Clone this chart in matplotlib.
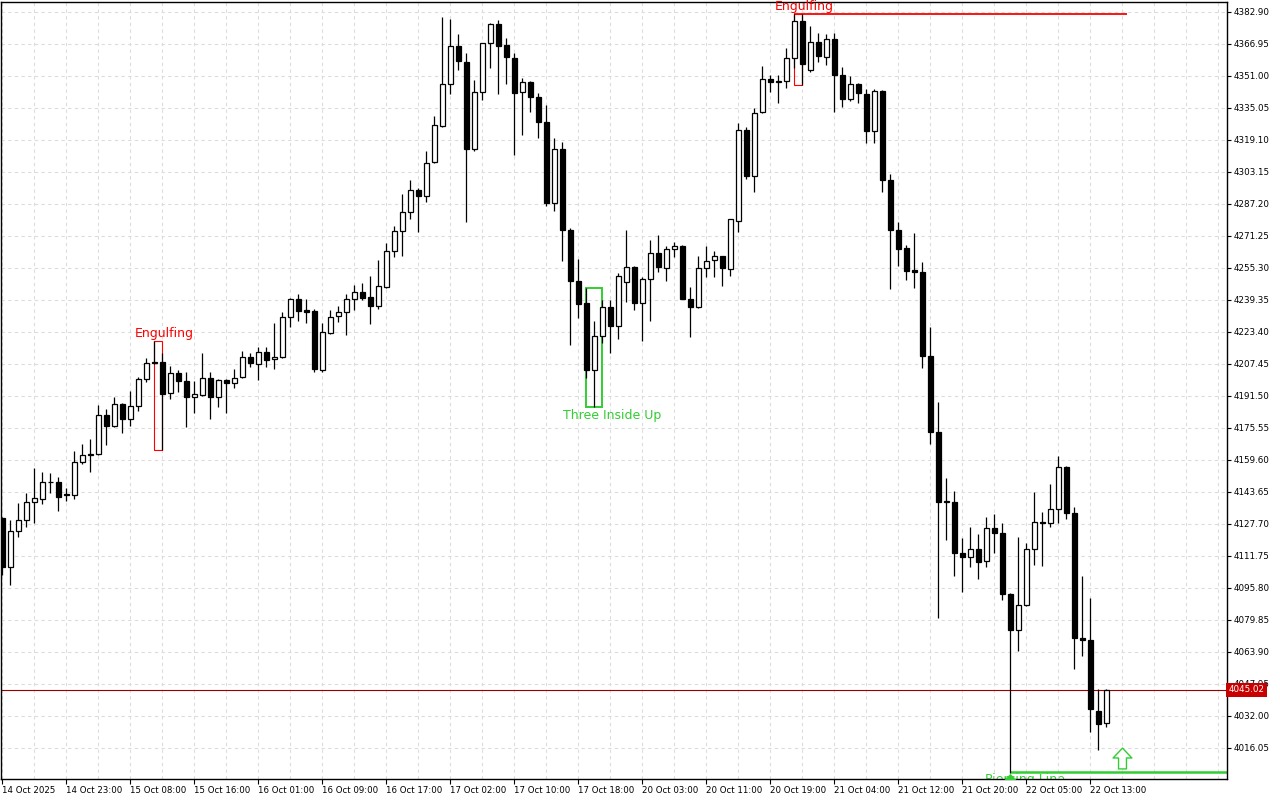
import matplotlib
matplotlib.use("Agg")
import matplotlib.pyplot as plt
from matplotlib.patches import Rectangle
from matplotlib.path import Path
from matplotlib.ticker import FixedLocator, MultipleLocator

# hourly OHLC (oldest -> newest)
opens = [
    4130.7, 4106.4, 4124.0, 4129.5, 4138.5, 4140.0, 4148.4, 4148.5, 4142.8, 4142.0,
    4158.4, 4162.1, 4162.4, 4181.9, 4176.5, 4187.3, 4179.9, 4186.3, 4199.8, 4208.4,
    4208.3, 4192.8, 4202.8, 4198.8, 4190.8, 4191.8, 4200.3, 4190.8, 4199.3, 4197.8,
    4200.8, 4210.8, 4207.3, 4213.3, 4209.8, 4210.8, 4230.7, 4239.7, 4234.2, 4233.7,
    4204.6, 4222.7, 4231.2, 4233.2, 4239.7, 4243.3, 4240.8, 4236.2, 4245.7, 4263.6,
    4273.6, 4283.1, 4294.0, 4291.0, 4308.0, 4325.9, 4346.9, 4365.8, 4357.8, 4314.5,
    4342.9, 4367.3, 4376.8, 4366.3, 4359.8, 4342.9, 4347.9, 4340.4, 4327.9, 4287.5,
    4314.5, 4274.0, 4249.0, 4237.7, 4204.4, 4221.4, 4236.0, 4226.5, 4248.2, 4255.6,
    4237.7, 4249.7, 4262.6, 4255.1, 4264.6, 4266.1, 4240.0, 4236.0, 4255.1, 4259.1,
    4261.1, 4254.6, 4278.6, 4323.9, 4301.0, 4332.9, 4349.3, 4348.2, 4348.4, 4359.8,
    4378.3, 4353.8, 4367.8, 4360.3, 4369.3, 4351.3, 4339.4, 4346.9, 4341.9, 4323.4,
    4343.7, 4298.9, 4274.0, 4265.3, 4254.4, 4253.4, 4211.6, 4173.7, 4138.8, 4138.8,
    4113.4, 4111.4, 4115.1, 4109.4, 4125.5, 4123.3, 4092.9, 4075.0, 4087.1, 4115.1,
    4128.8, 4128.0, 4135.0, 4155.9, 4133.0, 4070.7, 4069.7, 4034.3, 4028.4,
]
highs = [
    4131.2, 4129.7, 4138.3, 4143.3, 4155.6, 4153.6, 4152.9, 4151.0, 4145.5, 4164.1,
    4167.6, 4170.0, 4186.8, 4185.0, 4191.0, 4188.1, 4194.0, 4201.0, 4210.3, 4218.9,
    4212.8, 4206.4, 4204.3, 4203.3, 4198.8, 4213.1, 4203.3, 4200.1, 4199.8, 4204.8,
    4213.9, 4212.8, 4215.8, 4215.8, 4227.7, 4233.2, 4240.5, 4242.2, 4239.7, 4235.0,
    4227.7, 4234.2, 4236.3, 4242.2, 4246.8, 4247.7, 4251.2, 4259.3, 4267.7, 4276.1,
    4292.2, 4299.0, 4295.0, 4313.5, 4330.9, 4380.6, 4379.3, 4371.8, 4362.3, 4348.9,
    4367.5, 4377.3, 4378.8, 4369.8, 4362.3, 4349.9, 4348.4, 4342.4, 4336.4, 4319.9,
    4317.9, 4275.1, 4259.6, 4245.5, 4228.7, 4239.3, 4239.3, 4252.6, 4274.2, 4256.1,
    4250.6, 4269.1, 4271.7, 4266.1, 4268.1, 4266.6, 4245.7, 4261.1, 4266.1, 4263.6,
    4261.3, 4279.8, 4327.4, 4325.4, 4334.9, 4355.8, 4351.3, 4351.3, 4364.8, 4381.8,
    4381.8, 4375.8, 4372.3, 4371.8, 4372.3, 4355.3, 4350.8, 4347.4, 4344.4, 4344.4,
    4344.0, 4302.0, 4278.1, 4266.6, 4272.7, 4258.1, 4225.9, 4188.3, 4150.5, 4144.0,
    4120.7, 4126.2, 4122.7, 4131.0, 4132.5, 4128.0, 4093.2, 4121.0, 4118.0, 4143.5,
    4133.5, 4147.5, 4161.4, 4156.4, 4136.0, 4101.6, 4090.6, 4045.3, 4045.5,
]
lows = [
    4102.2, 4097.3, 4121.3, 4126.3, 4128.0, 4137.5, 4143.3, 4134.3, 4139.3, 4140.1,
    4157.4, 4153.7, 4162.0, 4167.2, 4176.0, 4173.2, 4176.7, 4184.0, 4198.6, 4207.4,
    4164.4, 4190.1, 4193.6, 4176.2, 4183.1, 4191.6, 4179.9, 4186.1, 4182.9, 4195.3,
    4200.6, 4206.1, 4199.5, 4206.1, 4204.8, 4210.5, 4226.0, 4229.0, 4228.0, 4203.6,
    4203.6, 4222.2, 4228.5, 4222.0, 4234.5, 4239.5, 4227.5, 4235.0, 4245.5, 4260.9,
    4261.4, 4279.9, 4273.4, 4288.0, 4307.5, 4325.6, 4341.9, 4353.8, 4278.1, 4313.5,
    4338.9, 4355.1, 4342.2, 4346.9, 4311.5, 4321.4, 4332.9, 4319.9, 4286.2, 4283.5,
    4258.9, 4216.9, 4230.5, 4200.3, 4186.1, 4217.7, 4213.1, 4220.0, 4238.5, 4234.2,
    4219.0, 4229.0, 4253.4, 4248.6, 4260.6, 4239.7, 4221.0, 4235.5, 4250.6, 4250.6,
    4246.2, 4251.1, 4273.1, 4299.5, 4293.0, 4332.6, 4342.9, 4337.4, 4344.9, 4355.0,
    4346.4, 4352.8, 4357.8, 4356.3, 4332.9, 4335.4, 4338.4, 4337.4, 4317.4, 4317.4,
    4293.4, 4244.6, 4256.3, 4249.5, 4245.5, 4205.6, 4167.7, 4081.0, 4119.8, 4101.9,
    4093.9, 4106.4, 4100.4, 4106.4, 4113.4, 4089.9, 4003.5, 4064.2, 4086.9, 4107.4,
    4106.9, 4126.3, 4128.0, 4130.0, 4055.2, 4061.7, 4023.8, 4014.9, 4026.3,
]
closes = [
    4106.2, 4124.2, 4129.7, 4138.6, 4140.5, 4148.5, 4148.6, 4141.3, 4142.0, 4158.4,
    4162.1, 4162.3, 4181.9, 4176.7, 4187.3, 4179.9, 4186.3, 4199.8, 4207.8, 4207.8,
    4192.6, 4202.8, 4198.8, 4190.8, 4192.3, 4200.3, 4190.8, 4199.3, 4197.8, 4200.6,
    4210.8, 4208.1, 4213.3, 4209.6, 4210.8, 4230.7, 4239.7, 4234.0, 4233.5, 4205.1,
    4223.2, 4230.7, 4233.2, 4239.7, 4243.2, 4240.5, 4236.2, 4246.2, 4263.6, 4273.6,
    4283.1, 4294.0, 4291.0, 4307.5, 4326.4, 4346.9, 4365.8, 4358.3, 4314.5, 4342.9,
    4367.3, 4376.8, 4365.8, 4360.3, 4342.4, 4347.9, 4340.4, 4327.9, 4287.5, 4314.5,
    4274.0, 4249.0, 4237.5, 4204.4, 4221.4, 4236.0, 4226.5, 4251.1, 4255.6, 4238.0,
    4249.7, 4262.6, 4255.6, 4264.6, 4266.1, 4240.0, 4236.0, 4255.1, 4258.6, 4261.1,
    4255.1, 4279.6, 4323.9, 4301.0, 4332.4, 4349.3, 4347.9, 4348.4, 4359.8, 4378.3,
    4356.8, 4367.8, 4360.8, 4369.3, 4351.3, 4339.4, 4346.9, 4342.4, 4323.4, 4343.7,
    4298.9, 4274.0, 4265.0, 4253.9, 4253.4, 4211.6, 4173.7, 4138.8, 4138.9, 4113.4,
    4111.4, 4115.1, 4108.9, 4125.5, 4123.3, 4092.9, 4075.0, 4087.1, 4115.1, 4128.5,
    4128.0, 4135.0, 4155.9, 4133.0, 4070.7, 4069.7, 4035.3, 4027.8, 4045.02,
]

time_labels = [
    "14 Oct 2025", "14 Oct 23:00", "15 Oct 08:00", "15 Oct 16:00", "16 Oct 01:00",
    "16 Oct 09:00", "16 Oct 17:00", "17 Oct 02:00", "17 Oct 10:00", "17 Oct 18:00",
    "20 Oct 03:00", "20 Oct 11:00", "20 Oct 19:00", "21 Oct 04:00", "21 Oct 12:00",
    "21 Oct 20:00", "22 Oct 05:00", "22 Oct 13:00",
]
label_step = 8  # one label every 8 bars

price_ticks = [
    4016.05, 4032.00, 4047.95, 4063.90, 4079.85, 4095.80, 4111.75, 4127.70,
    4143.65, 4159.60, 4175.55, 4191.50, 4207.45, 4223.40, 4239.35, 4255.30,
    4271.25, 4287.20, 4303.15, 4319.10, 4335.05, 4351.00, 4366.95, 4382.90,
]

# pattern markers: (first bar, last bar)
engulf_1 = (19, 20)
engulf_2 = (99, 100)
three_inside = (73, 75)
piercing_bar = 126
signal_arrow = (140, 4011.0)
last_price = closes[-1]

RED = "#ff0000"
GREEN = "#32cd32"

fig = plt.figure(figsize=(12.8, 8), dpi=100, facecolor="white")
ax = fig.add_axes([1 / 1280, 21 / 800, 1226 / 1280, 777 / 800])
ax.set_xlim(-0.16, 153.09)
ax.set_ylim(4000.55, 4387.88)

# candles
n = len(opens)
xs = list(range(n))
ax.vlines(xs, lows, highs, color="black", lw=0.9, zorder=3)
for i in xs:
    o, c = opens[i], closes[i]
    bull = c >= o
    ax.bar(i, max(abs(c - o), 0.3), bottom=min(o, c), width=0.62,
           color="white" if bull else "black", edgecolor="black",
           linewidth=0.9, zorder=4)

# grid
ax.xaxis.set_major_locator(FixedLocator([k * label_step for k in range(len(time_labels))]))
ax.xaxis.set_minor_locator(MultipleLocator(4))
ax.set_xticklabels(time_labels)
for lab in ax.get_xticklabels():
    lab.set_horizontalalignment("left")
ax.set_yticks(price_ticks)
ax.set_yticklabels([f"{p:.2f}" for p in price_ticks])
ax.grid(True, which="both", color="#dcdcdc", linestyle=(0, (3, 3)), lw=0.8, zorder=0)

ax.yaxis.tick_right()
ax.tick_params(axis="y", which="major", direction="out", length=3, width=0.8,
               labelsize=6.3, pad=1.5, colors="black")
ax.tick_params(axis="x", which="major", direction="out", length=3.5, width=0.8,
               labelsize=6.2, pad=1.5)
ax.tick_params(axis="x", which="minor", length=0)
for s in ax.spines.values():
    s.set_color("black")
    s.set_linewidth(1.0)

# current price line + label
ax.axhline(last_price, color="#9b0000", lw=0.8, zorder=2)
ax.text(1.0015, last_price, f"{last_price:.2f}", transform=ax.get_yaxis_transform(),
        ha="left", va="center", fontsize=6.3, color="white", clip_on=False, zorder=10,
        bbox=dict(boxstyle="square,pad=0.28", facecolor="#c80000", edgecolor="none"))

# Engulfing #1
a, b = engulf_1
hi = max(highs[a:b + 1]); lo = min(lows[a:b + 1])
ax.add_patch(Rectangle((a, lo), b - a, hi - lo, fill=False, edgecolor=RED, lw=0.8, zorder=2))
ax.text(a + 1.3, hi + 0.6, "Engulfing", color=RED, fontsize=9, ha="center", va="bottom")

# Engulfing #2 with resistance line
a, b = engulf_2
hi = max(highs[a:b + 1]); lo = min(lows[a:b + 1])
ax.add_patch(Rectangle((a, lo), b - a, hi - lo, fill=False, edgecolor=RED, lw=0.8, zorder=2))
ax.hlines(hi, a, 140.6, color=RED, lw=1.3, zorder=2)
ax.text(a + 1.3, hi + 0.6, "Engulfing", color=RED, fontsize=9, ha="center", va="bottom",
        clip_on=False)

# Three Inside Up
a, b = three_inside
hi = max(highs[a:b + 1]); lo = min(lows[a:b + 1])
ax.add_patch(Rectangle((a, lo), b - a, hi - lo, fill=False, edgecolor=GREEN, lw=1.4, zorder=2))
ax.text(a + 3.2, lo - 1.0, "Three Inside Up", color=GREEN, fontsize=9, ha="center", va="top")

# support line from the spike low + label mostly hidden below the frame
sup = lows[piercing_bar]
ax.hlines(sup + 0.5, piercing_bar, 153.09, color=GREEN, lw=1.8, zorder=2)
pl = ax.text(piercing_bar - 3.2, sup - 0.2, "Piercing Line", color=GREEN, fontsize=9,
             ha="left", va="top", zorder=1)
pl.set_clip_box(ax.bbox)
pl.set_clip_on(True)

arrow = Path([(0, 1), (0.9, 0.05), (0.38, 0.05), (0.38, -1), (-0.38, -1),
              (-0.38, 0.05), (-0.9, 0.05), (0, 1)],
             [Path.MOVETO] + [Path.LINETO] * 6 + [Path.CLOSEPOLY])
ax.plot([piercing_bar], [sup - 5.5], marker=arrow, markersize=14, color=GREEN,
        markeredgecolor=GREEN, clip_on=True, zorder=5)
ax.plot([signal_arrow[0]], [signal_arrow[1]], marker=arrow, markersize=15,
        markerfacecolor="white", markeredgecolor=GREEN, markeredgewidth=1.0, zorder=5)

fig.savefig("out.png", dpi=100, facecolor="white")
